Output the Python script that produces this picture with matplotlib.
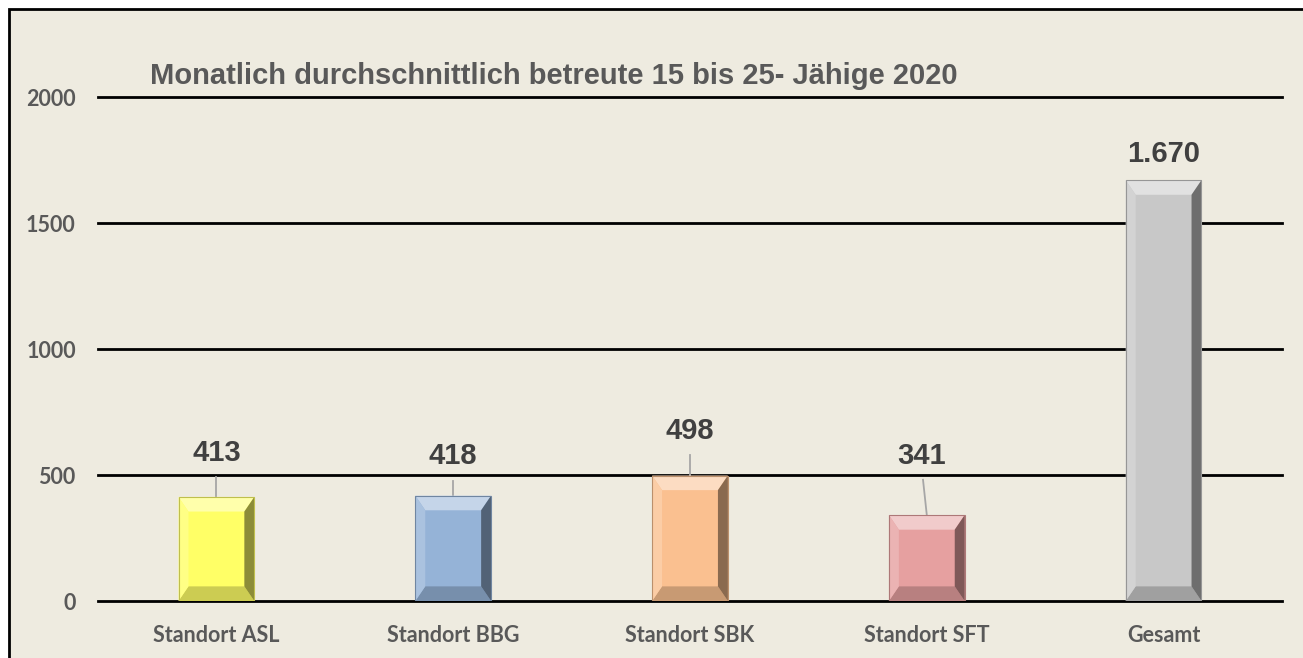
import numpy as np
import matplotlib.pyplot as plt
from matplotlib.patches import Polygon, Rectangle
from matplotlib.colors import to_rgb

# Daten
categories = ['Standort ASL', 'Standort BBG', 'Standort SBK', 'Standort SFT', 'Gesamt']
values = [413, 418, 498, 341, 1670]
value_labels = ['413', '418', '498', '341', '1.670']
bar_colors = ['#FFFF66', '#95B3D7', '#FAC090', '#E6A0A0', '#C8C8C8']

# Position der Beschriftungen (Abstand über dem Balken, x-Versatz)
label_offsets = [120, 100, 120, 180, 48]
label_dx = [0, 0, 0, -0.02, 0]

bg = '#EEEBE0'
grey_text = '#595959'


def mix(c, other, t):
    c = np.array(to_rgb(c))
    o = np.array(to_rgb(other))
    return tuple(c * (1 - t) + o * t)


fig = plt.figure(figsize=(13.03, 6.58), dpi=100)
fig.patch.set_facecolor('white')

# Rahmen mit Hintergrund
frame = Rectangle((9 / 1303, -0.05), 1.1, 1 - 9 / 658 + 0.05,
                  transform=fig.transFigure, facecolor=bg,
                  edgecolor='black', linewidth=2, zorder=-5)
fig.add_artist(frame)

ax = fig.add_axes([98 / 1303, 57 / 658, (1282 - 98) / 1303, (601 - 97) / 658])
ax.set_zorder(2)
ax.set_facecolor('none')
ax.set_xlim(-0.5, 4.5)
ax.set_ylim(0, 2000)

for s in ax.spines.values():
    s.set_visible(False)

# Gitterlinien
for yv in [0, 500, 1000, 1500, 2000]:
    ax.axhline(yv, color='black', linewidth=2, zorder=1, clip_on=False)

x = np.arange(len(categories))
bars = ax.bar(x, values, width=0.32, color=bar_colors, zorder=3,
              edgecolor='none')

# Facetten (Bevel) der Balken
bx = 0.042  # horizontale Facette in Dateneinheiten
by = 58     # vertikale Facette in Dateneinheiten
for rect, col in zip(bars, bar_colors):
    x0 = rect.get_x()
    x1 = x0 + rect.get_width()
    h = rect.get_height()
    top = Polygon([(x0, h), (x1, h), (x1 - bx, h - by), (x0 + bx, h - by)],
                  closed=True, facecolor=mix(col, 'white', 0.45), edgecolor='none', zorder=4)
    bottom = Polygon([(x0, 0), (x1, 0), (x1 - bx, by), (x0 + bx, by)],
                     closed=True, facecolor=mix(col, 'black', 0.2), edgecolor='none', zorder=4)
    left = Polygon([(x0, 0), (x0 + bx, by), (x0 + bx, h - by), (x0, h)],
                   closed=True, facecolor=mix(col, 'white', 0.2), edgecolor='none', zorder=4)
    right = Polygon([(x1, 0), (x1 - bx, by), (x1 - bx, h - by), (x1, h)],
                    closed=True, facecolor=mix(col, 'black', 0.45), edgecolor='none', zorder=4)
    for p in (top, bottom, left, right):
        ax.add_patch(p)
    ax.add_patch(Rectangle((x0, 0), x1 - x0, h, facecolor='none',
                           edgecolor=mix(col, 'black', 0.25), linewidth=0.8, zorder=5))

# Datenbeschriftungen mit Führungslinien
for xi, v, lab, off, dx in zip(x, values, value_labels, label_offsets, label_dx):
    ly = v + off
    ax.text(xi + dx, ly, lab, ha='center', va='bottom', fontsize=21,
            fontweight='bold', color='#404040', family='Liberation Sans', zorder=6)
    if off > 80:
        ax.plot([xi, xi + dx * 0.8], [v, ly - 40], color='#A6A6A6',
                linewidth=1.3, zorder=2)

ax.set_yticks([0, 500, 1000, 1500, 2000])
ax.set_yticklabels(['0', '500', '1000', '1500', '2000'])
ax.set_xticks(x)
ax.set_xticklabels(categories)
ax.tick_params(axis='y', length=0, pad=16, labelsize=15.5, labelcolor=grey_text)
ax.tick_params(axis='x', length=0, pad=17, labelsize=15.5, labelcolor=grey_text)
for t in ax.get_xticklabels() + ax.get_yticklabels():
    t.set_fontfamily('Lato')
    t.set_fontweight('bold')

fig.text(150 / 1303, 1 - 76 / 658, 'Monatlich durchschnittlich betreute 15 bis 25- Jähige 2020',
         ha='left', va='center', fontsize=21, fontweight='bold', color=grey_text,
         family='Liberation Sans')

fig.savefig('out.png', dpi=100, facecolor=fig.get_facecolor())
